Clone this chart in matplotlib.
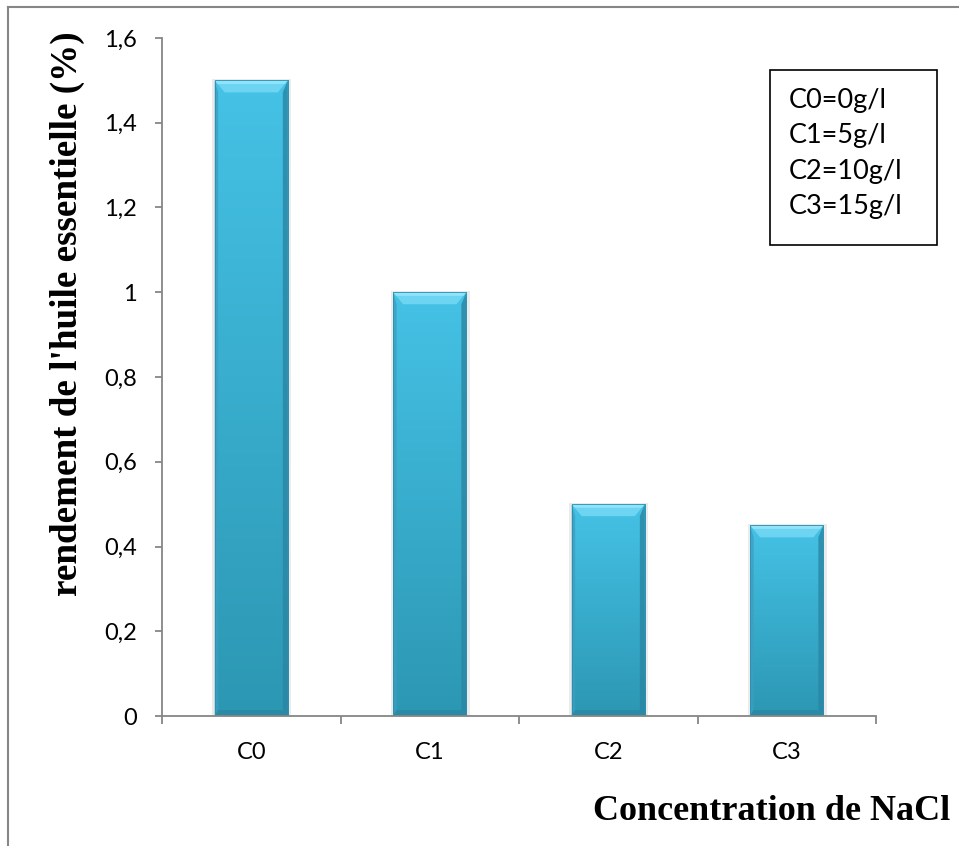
import numpy as np
import matplotlib
matplotlib.use("Agg")
import matplotlib.pyplot as plt
from matplotlib.patches import Polygon, Rectangle
from matplotlib.lines import Line2D
from matplotlib.colors import to_rgb
from matplotlib.ticker import FixedLocator, FuncFormatter

# Data
categories = ["C0", "C1", "C2", "C3"]
rendement = [1.5, 1.0, 0.5, 0.45]
y_ticks = [0, 0.2, 0.4, 0.6, 0.8, 1.0, 1.2, 1.4, 1.6]
legend_lines = ["C0=0g/l", "C1=5g/l", "C2=10g/l", "C3=15g/l"]

W, H, DPI = 959, 846, 100
fig = plt.figure(figsize=(W / DPI, H / DPI), dpi=DPI)
fig.patch.set_facecolor("white")

def fx(px):
    return px / W

def fy(py):
    return 1 - py / H

ax = fig.add_axes([fx(162), fy(716), fx(876) - fx(162), fy(38) - fy(716)])
ax.set_xlim(-0.5, 3.5)
ax.set_ylim(0, 1.6)

grey = "#868686"
for s in ("top", "right"):
    ax.spines[s].set_visible(False)
for s in ("left", "bottom"):
    ax.spines[s].set_color(grey)
    ax.spines[s].set_linewidth(1.3)

tick_font = dict(family="Lato", size=17)
ax.yaxis.set_major_locator(FixedLocator(y_ticks))
ax.yaxis.set_major_formatter(FuncFormatter(lambda v, p: f"{v:g}".replace(".", ",")))
ax.tick_params(axis="y", direction="out", length=5, width=1.3, color=grey, pad=13)
for lab in ax.get_yticklabels():
    lab.set_fontfamily("Lato")
    lab.set_fontsize(17)

x = np.arange(len(categories))
ax.set_xticks(x)
ax.set_xticklabels(categories, **tick_font)
ax.set_xticks(np.arange(-0.5, len(categories)), minor=True)
ax.tick_params(axis="x", which="major", length=0, pad=19)
ax.tick_params(axis="x", which="minor", direction="out", length=6, width=1.3, color=grey)

bar_w = 0.41
bars = ax.bar(x, rendement, width=bar_w, color="#3AB0D4", zorder=2)

# Bevel shading for each bar, sized in pixels
fig.canvas.draw()
inv = ax.transData.inverted()
px_x = inv.transform((10, 0))[0] - inv.transform((0, 0))[0]
px_y = inv.transform((0, 10))[1] - inv.transform((0, 0))[1]

top_c = np.array(to_rgb("#45C2E6"))
bot_c = np.array(to_rgb("#2C97B3"))

for b in bars:
    x0, y0 = b.get_x(), b.get_y()
    bw, bh = b.get_width(), b.get_height()
    x1, y1 = x0 + bw, y0 + bh
    # soft shadow
    ax.add_patch(Rectangle((x0 - 0.25 * px_x, y0), bw + 0.6 * px_x, bh + 0.1 * px_y,
                           facecolor="#000000", alpha=0.08, lw=0, zorder=1.5))
    # vertical gradient body
    n = 200
    t = np.linspace(0, 1, n)[:, None]
    grad = top_c * (1 - t) + bot_c * t
    img = np.repeat(grad[:, None, :], 2, axis=1)
    im = ax.imshow(img, extent=(x0, x1, y0, y1), origin="upper", aspect="auto",
                   interpolation="bilinear", zorder=2.1)
    im.set_clip_path(b)
    b.set_alpha(0)
    bv_x, bv_y = 1.0 * px_x, 1.2 * px_y
    # top bevel highlight
    ax.add_patch(Polygon([(x0, y1), (x1, y1), (x1 - bv_x, y1 - bv_y), (x0 + bv_x, y1 - bv_y)],
                         closed=True, facecolor="#6DD5F2", edgecolor="none", zorder=2.2))
    ax.add_patch(Polygon([(x0, y1), (x1, y1), (x1 - 0.3 * bv_x, y1 - 0.3 * bv_y), (x0 + 0.3 * bv_x, y1 - 0.3 * bv_y)],
                         closed=True, facecolor="#90E3F8", edgecolor="none", zorder=2.25))
    # right side darker strip
    ax.add_patch(Polygon([(x1, y1), (x1, y0), (x1 - 0.5 * px_x, y0 + 0.6 * px_y), (x1 - 0.5 * px_x, y1 - bv_y)],
                         closed=True, facecolor="#2A86A3", edgecolor="none", alpha=0.8, zorder=2.2))
    # left side strip
    ax.add_patch(Polygon([(x0, y1), (x0, y0), (x0 + 0.35 * px_x, y0 + 0.6 * px_y), (x0 + 0.35 * px_x, y1 - bv_y)],
                         closed=True, facecolor="#3C9FC0", edgecolor="none", alpha=0.8, zorder=2.2))
    # bottom darker strip
    ax.add_patch(Polygon([(x0, y0), (x1, y0), (x1 - 0.5 * px_x, y0 + 0.6 * px_y), (x0 + 0.35 * px_x, y0 + 0.6 * px_y)],
                         closed=True, facecolor="#2A8AA5", edgecolor="none", alpha=0.9, zorder=2.2))
    # outline
    ax.add_patch(Rectangle((x0, y0), bw, bh, facecolor="none", edgecolor="#2B8FAE",
                           lw=0.6, zorder=2.3))

# Axis titles
fig.text(fx(67), fy(314), "rendement de l'huile essentielle (%)", rotation=90,
         ha="center", va="center", family="Liberation Serif", weight="bold", size=26.7)
fig.text(fx(593), fy(820), "Concentration de NaCl", ha="left", va="baseline",
         family="Liberation Serif", weight="bold", size=26.0)

# Concentration key box
fig.add_artist(Rectangle((fx(770), fy(245)), fx(937) - fx(770), fy(70) - fy(245),
                         transform=fig.transFigure, facecolor="white",
                         edgecolor="black", lw=1.2))
for i, s in enumerate(legend_lines):
    fig.text(fx(789), fy(108 + 35.4 * i), s, ha="left", va="baseline",
             family="Lato", size=19.5)

# Outer chart frame
fig.add_artist(Line2D([fx(8), 1], [fy(7), fy(7)], transform=fig.transFigure,
                      color=grey, lw=1.5))
fig.add_artist(Line2D([fx(8), fx(8)], [fy(7), 0], transform=fig.transFigure,
                      color=grey, lw=1.5))

fig.savefig("out.png", dpi=DPI)
